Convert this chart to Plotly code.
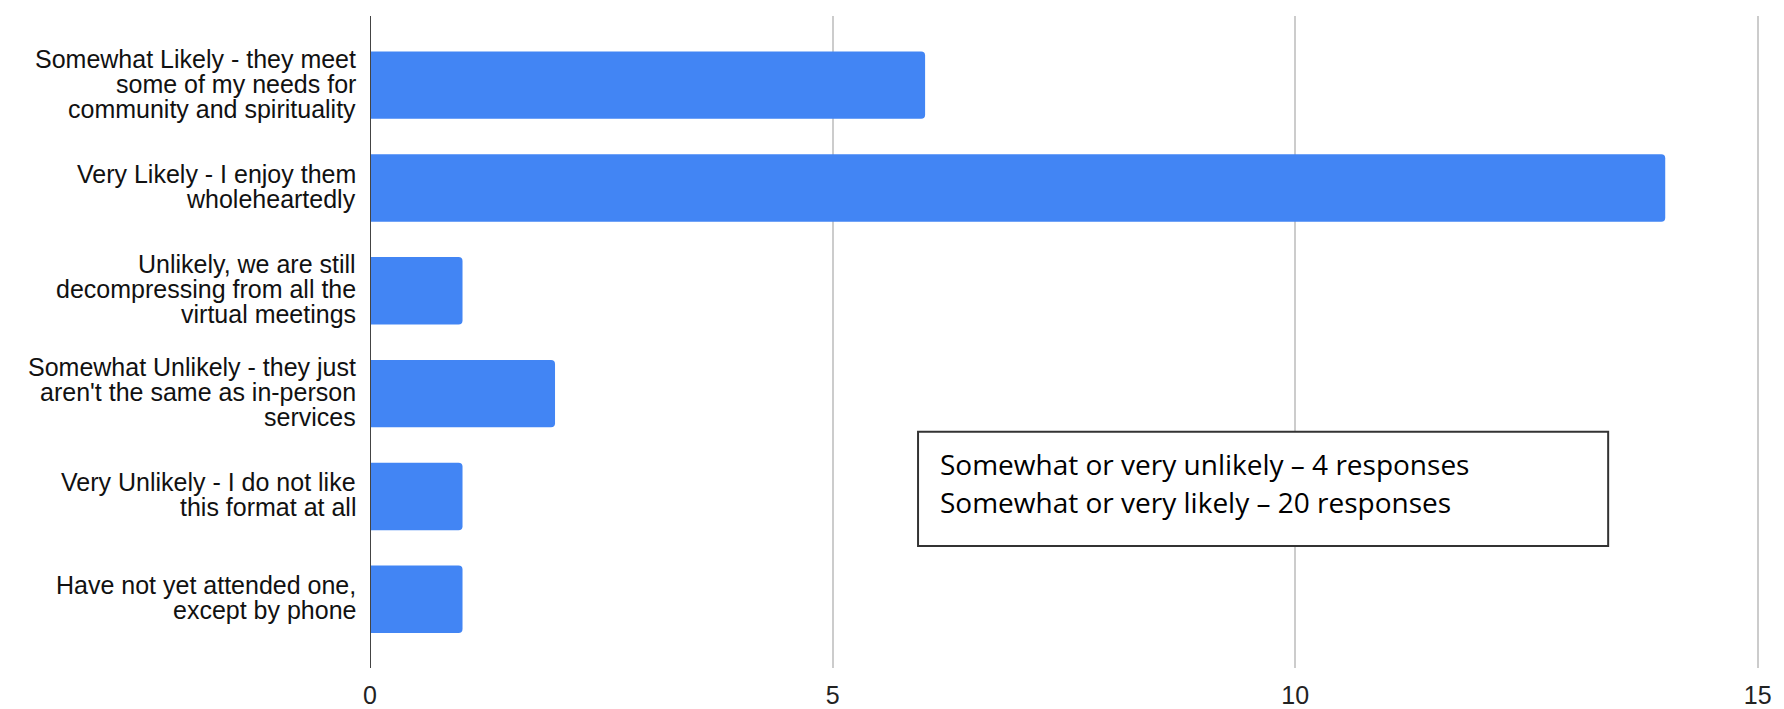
import plotly.graph_objects as go

categories = [
    "Somewhat Likely - they meet<br>some of my needs for<br>community and spirituality",
    "Very Likely - I enjoy them<br>wholeheartedly",
    "Unlikely, we are still<br>decompressing from all the<br>virtual meetings",
    "Somewhat Unlikely - they just<br>aren't the same as in-person<br>services",
    "Very Unlikely - I do not like<br>this format at all",
    "Have not yet attended one,<br>except by phone",
]
values = [6, 14, 1, 2, 1, 1]
x_ticks = [0, 5, 10, 15]
note_lines = [
    "Somewhat or very unlikely \u2013 4 responses",
    "Somewhat or very likely \u2013 20 responses",
]

fig = go.Figure(go.Bar(
    x=values, y=categories, orientation="h",
    marker=dict(color="#4285F4", line=dict(width=0)),
    width=0.656,
))

fig.update_layout(
    width=1784, height=709,
    margin=dict(l=362, r=25, t=8, b=39),
    paper_bgcolor="white", plot_bgcolor="white",
    showlegend=False,
    barcornerradius=4,
    font=dict(family="Liberation Sans, Arial", color="#222222"),
)
fig.update_xaxes(
    range=[0, 15.1], tickvals=x_ticks, showgrid=True, gridcolor="#cccccc", gridwidth=2,
    zeroline=False, showline=False, tickfont=dict(size=25, color="#222222"),
    ticklabelstandoff=10,
)
fig.update_yaxes(
    range=[5.668, -0.672], showgrid=False, zeroline=False, showline=False,
    showticklabels=False,
)
# category labels, one annotation per line for tight line spacing
line_gap = 25
for i, cat in enumerate(categories):
    parts = cat.split("<br>")
    n = len(parts)
    for j, part in enumerate(parts):
        fig.add_annotation(text=part, xref="paper", yref="y", x=0, y=cat,
                           xanchor="right", yanchor="middle", showarrow=False,
                           xshift=-12, yshift=1.5 - (j - (n - 1) / 2) * line_gap,
                           font=dict(family="Liberation Sans, Arial", size=25, color="#111111"))
# vertical baseline at x=0
fig.add_shape(type="line", xref="x", yref="paper", x0=0, x1=0, y0=0, y1=1,
              line=dict(color="#444444", width=2))
# note box
fig.add_shape(type="rect", xref="paper", yref="paper", x0=0.3923, x1=0.8863, y0=0.1873, y1=0.3625,
              line=dict(color="#333333", width=2), fillcolor="white")
ys = [0.3127, 0.2553]
for line, yy in zip(note_lines, ys):
    fig.add_annotation(text=line, xref="paper", yref="paper", x=0.4066, y=yy,
                       xanchor="left", yanchor="middle", showarrow=False,
                       font=dict(family="Open Sans", size=28, color="#000000"))

fig.write_html("out.html")
